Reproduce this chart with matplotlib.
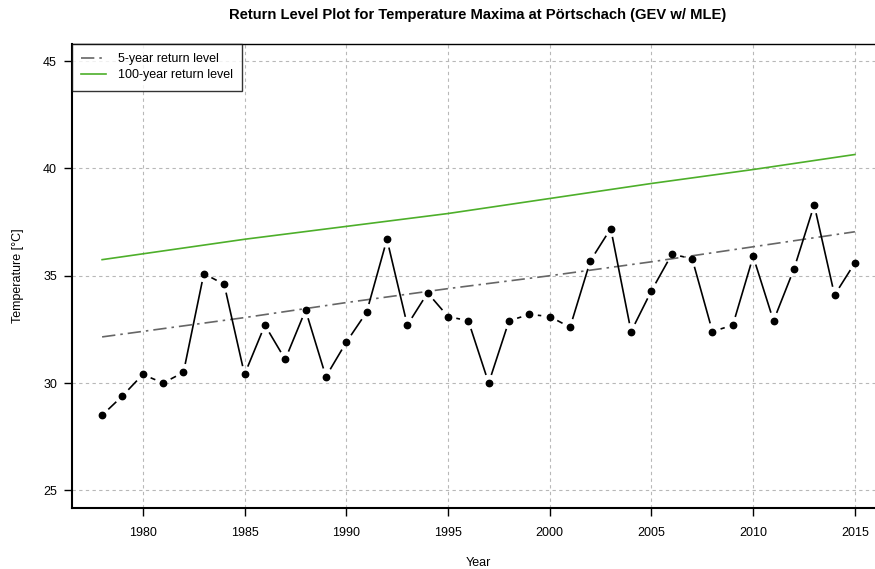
import numpy as np
import matplotlib
matplotlib.use("Agg")
import matplotlib.pyplot as plt

plt.rcParams["font.family"] = ["Liberation Sans", "DejaVu Sans"]

# --- Données ---
years = np.arange(1978, 2016)
tmax = [28.5, 29.4, 30.4, 30.0, 30.5, 35.1, 34.6, 30.4, 32.7, 31.1,
        33.4, 30.3, 31.9, 33.3, 36.7, 32.7, 34.2, 33.1, 32.9, 30.0,
        32.9, 33.2, 33.1, 32.6, 35.7, 37.2, 32.4, 34.3, 36.0, 35.8,
        32.4, 32.7, 35.9, 32.9, 35.3, 38.3, 34.1, 35.6]

rl_years = [1978, 1985, 1990, 1995, 2000, 2005, 2010, 2015]
rl5 = [32.15, 33.05, 33.75, 34.4, 35.0, 35.65, 36.35, 37.05]
rl100 = [35.75, 36.7, 37.3, 37.9, 38.6, 39.3, 39.95, 40.65]

xticks = np.arange(1980, 2016, 5)
yticks = np.arange(25, 46, 5)

W, H = 875, 569
x0, x1, y0, y1 = 72, 885, 44, 507.5   # cadre des axes en pixels
xlim = (1976.52, 2016.48)
ylim = (24.2, 45.8)

fig = plt.figure(figsize=(W / 100, H / 100), dpi=100)
ax = fig.add_axes([x0 / W, 1 - y1 / H, (x1 - x0) / W, (y1 - y0) / H])
ax.set_xlim(*xlim)
ax.set_ylim(*ylim)

# grille grise pointillée façon R
for xv in xticks:
    ax.axvline(xv, color="#b8b8b8", lw=0.8, ls=(0, (3, 3)), zorder=0)
for yv in yticks:
    ax.axhline(yv, color="#b8b8b8", lw=0.8, ls=(0, (3, 3)), zorder=0)

ax.plot(rl_years, rl5, color="#666666", lw=1.2, ls=(0, (8, 3, 1.5, 3)),
        label="5-year return level")
ax.plot(rl_years, rl100, color="#4daf2a", lw=1.2, label="100-year return level")

# type="b" : segments interrompus autour des points (échelle pixel calculée à la main)
sx = (x1 - x0) / (xlim[1] - xlim[0])
sy = (y1 - y0) / (ylim[1] - ylim[0])
px = np.asarray(years, float) * sx
py = np.asarray(tmax, float) * sy
gap = 8.5
for i in range(len(years) - 1):
    dx, dy = px[i + 1] - px[i], py[i + 1] - py[i]
    L = np.hypot(dx, dy)
    if L <= 2 * gap:
        continue
    ux, uy = dx / L, dy / L
    xa, ya = (px[i] + ux * gap) / sx, (py[i] + uy * gap) / sy
    xb, yb = (px[i + 1] - ux * gap) / sx, (py[i + 1] - uy * gap) / sy
    ax.plot([xa, xb], [ya, yb], color="black", lw=1.2, solid_capstyle="butt")
ax.plot(years, tmax, "o", color="black", ms=4.6)

ax.set_xticks(xticks)
ax.set_yticks(yticks)
ax.tick_params(axis="x", direction="out", length=5.8, width=1, labelsize=9, pad=8)
ax.tick_params(axis="y", direction="out", length=5.8, width=1, labelsize=9, pad=5)
for s in ax.spines.values():
    s.set_linewidth(1)
ax.spines["left"].set_linewidth(1.5)
ax.spines["bottom"].set_linewidth(1.5)

ax.set_xlabel("Year", fontsize=9, labelpad=13)
ax.set_ylabel("Temperature [°C]", fontsize=9, labelpad=14)
fig.text(478 / W, 1 - 15 / H, "Return Level Plot for Temperature Maxima at Pörtschach (GEV w/ MLE)",
         ha="center", va="center", fontsize=10.6, fontweight="bold")

leg = ax.legend(loc="upper left", fontsize=9, frameon=True, fancybox=False,
                borderaxespad=0, handlelength=2.0, handletextpad=0.9,
                borderpad=0.75, labelspacing=0.3)
leg.get_frame().set_edgecolor("black")
leg.get_frame().set_linewidth(1)

fig.savefig("out.png", dpi=100)
